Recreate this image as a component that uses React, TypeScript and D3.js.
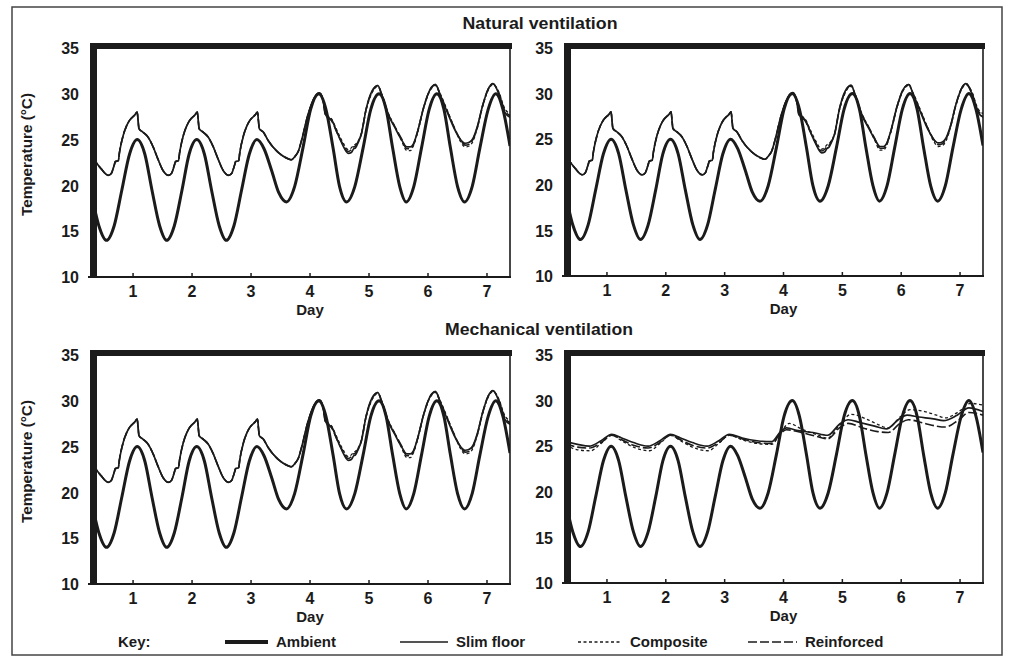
import * as d3 from "d3";

type Pt = [number, number];

// axis values
const dayTicks = [1, 2, 3, 4, 5, 6, 7];
const tempTicks = [10, 15, 20, 25, 30, 35];

// ambient temperature, same in all four panels (day, °C)
const ambient: Pt[] = [
  [0.3, 18.9], [0.42, 15.6], [0.55, 14.0], [0.68, 15.6], [0.81, 19.5], [0.94, 23.4], [1.07, 25.0],
  [1.2, 23.4], [1.32, 19.5], [1.45, 15.6], [1.57, 14.0], [1.7, 15.6], [1.83, 19.5], [1.95, 23.4],
  [2.08, 25.0], [2.21, 23.4], [2.33, 19.5], [2.46, 15.6], [2.58, 14.0], [2.71, 15.6], [2.84, 19.5],
  [2.97, 23.4], [3.1, 25.0], [3.22, 24.0], [3.35, 21.6], [3.47, 19.2], [3.6, 18.2], [3.74, 19.9],
  [3.88, 24.1], [4.01, 28.3], [4.15, 30.0], [4.27, 28.3], [4.39, 24.1], [4.5, 19.9], [4.62, 18.2],
  [4.76, 19.9], [4.9, 24.1], [5.03, 28.3], [5.17, 30.0], [5.29, 28.3], [5.4, 24.1], [5.52, 19.9],
  [5.63, 18.2], [5.76, 19.9], [5.89, 24.1], [6.02, 28.3], [6.15, 30.0], [6.27, 28.3], [6.38, 24.1],
  [6.5, 19.9], [6.62, 18.2], [6.75, 19.9], [6.88, 24.1], [7.02, 28.3], [7.15, 30.0], [7.27, 28.3],
  [7.39, 24.3],
];

// natural ventilation: the three floors sit on top of each other up to day 4
const naturalEarly: Pt[] = [
  [0.3, 23.1], [0.35, 22.7], [0.46, 21.8], [0.58, 21.1], [0.63, 21.3], [0.68, 22.2], [0.7, 22.6],
  [0.75, 22.7], [0.77, 23.6], [0.83, 25.4], [0.89, 26.5], [0.94, 27.1], [1.03, 27.7], [1.07, 28.0],
  [1.085, 27.1], [1.1, 26.2], [1.17, 25.8], [1.25, 25.3], [1.34, 24.2], [1.42, 22.9], [1.51, 21.6],
  [1.6, 21.1], [1.65, 21.3], [1.7, 22.2], [1.72, 22.6], [1.77, 22.7], [1.79, 23.6], [1.85, 25.4],
  [1.91, 26.5], [1.96, 27.1], [2.05, 27.7], [2.09, 28.0], [2.105, 27.1], [2.12, 26.2], [2.19, 25.8],
  [2.27, 25.3], [2.36, 24.2], [2.44, 22.9], [2.53, 21.6], [2.62, 21.1], [2.67, 21.3], [2.72, 22.2],
  [2.74, 22.6], [2.79, 22.7], [2.81, 23.6], [2.87, 25.4], [2.93, 26.5], [2.98, 27.1], [3.07, 27.7],
  [3.11, 28.0], [3.125, 27.1], [3.14, 26.2], [3.21, 25.8], [3.29, 24.9], [3.46, 23.6], [3.63, 22.9],
  [3.68, 22.8], [3.75, 23.2], [3.8, 23.7], [3.86, 25.0], [3.96, 27.6], [4.07, 29.5], [4.16, 30.1],
];

const slimNaturalLate: Pt[] = [
  [4.22, 29.3], [4.26, 27.8], [4.3, 27.4], [4.37, 27.1], [4.45, 25.9], [4.54, 24.6], [4.65, 23.5],
  [4.7, 23.6], [4.74, 24.0], [4.77, 24.1], [4.81, 24.6], [4.87, 25.6], [4.95, 28.3], [5.05, 30.3],
  [5.15, 30.9], [5.22, 29.8], [5.32, 27.8], [5.44, 26.3], [5.55, 25.0], [5.64, 24.2], [5.7, 24.2],
  [5.75, 24.5], [5.82, 25.8], [5.93, 28.6], [6.03, 30.4], [6.13, 31.0], [6.2, 30.0], [6.32, 28.1],
  [6.46, 26.0], [6.55, 25.0], [6.63, 24.6], [6.7, 24.7], [6.76, 25.1], [6.83, 26.3], [6.93, 28.8],
  [7.02, 30.5], [7.1, 31.1], [7.2, 30.0], [7.3, 28.0], [7.4, 27.4],
];

const compositeNaturalLate: Pt[] = [
  [4.22, 29.2], [4.26, 27.9], [4.3, 27.6], [4.37, 27.2], [4.45, 26.1], [4.54, 24.9], [4.65, 23.9],
  [4.7, 24.1], [4.74, 24.4], [4.77, 24.5], [4.81, 24.8], [4.87, 25.7], [4.95, 28.2], [5.05, 30.1],
  [5.15, 30.8], [5.22, 29.9], [5.32, 28.0], [5.44, 26.4], [5.55, 24.9], [5.64, 23.8], [5.7, 23.8],
  [5.75, 24.3], [5.82, 25.7], [5.93, 28.5], [6.03, 30.3], [6.13, 30.9], [6.2, 30.1], [6.32, 28.3],
  [6.46, 26.1], [6.55, 24.8], [6.63, 24.2], [6.7, 24.3], [6.76, 24.8], [6.83, 26.1], [6.93, 28.7],
  [7.02, 30.4], [7.1, 31.0], [7.2, 30.2], [7.3, 28.4], [7.4, 27.8],
];

const reinforcedNaturalLate: Pt[] = [
  [4.22, 29.3], [4.26, 27.7], [4.3, 27.5], [4.37, 27.0], [4.45, 25.9], [4.54, 24.7], [4.65, 23.7],
  [4.7, 23.9], [4.74, 24.2], [4.77, 24.3], [4.81, 24.7], [4.87, 25.6], [4.95, 28.3], [5.05, 30.2],
  [5.15, 30.9], [5.22, 29.8], [5.32, 27.9], [5.44, 26.4], [5.55, 25.1], [5.64, 24.0], [5.7, 24.0],
  [5.75, 24.4], [5.82, 25.8], [5.93, 28.6], [6.03, 30.4], [6.13, 31.0], [6.2, 30.0], [6.32, 28.2],
  [6.46, 26.1], [6.55, 25.0], [6.63, 24.4], [6.7, 24.5], [6.76, 25.0], [6.83, 26.2], [6.93, 28.8],
  [7.02, 30.5], [7.1, 31.1], [7.2, 30.1], [7.3, 28.2], [7.4, 27.6],
];

const slimNatural = [...naturalEarly, ...slimNaturalLate];
const compositeNatural = [...naturalEarly, ...compositeNaturalLate];
const reinforcedNatural = [...naturalEarly, ...reinforcedNaturalLate];

// mechanical ventilation, right-hand panel
const slimMech: Pt[] = [
  [0.3, 25.5], [0.5, 25.2], [0.7, 25.0], [0.9, 25.6], [1.08, 26.3], [1.25, 25.9], [1.45, 25.4],
  [1.7, 25.0], [1.9, 25.6], [2.08, 26.3], [2.25, 25.9], [2.45, 25.4], [2.7, 25.0], [2.9, 25.6],
  [3.08, 26.3], [3.3, 25.9], [3.55, 25.6], [3.8, 25.5], [3.95, 26.6], [4.05, 27.0], [4.25, 26.7],
  [4.5, 26.5], [4.75, 26.2], [4.95, 27.4], [5.1, 27.9], [5.3, 27.6], [5.55, 27.2], [5.75, 26.9],
  [5.95, 27.9], [6.1, 28.4], [6.3, 28.2], [6.55, 28.0], [6.72, 27.8], [6.95, 28.4], [7.15, 29.2],
  [7.39, 28.8],
];

const compositeMech: Pt[] = [
  [0.3, 25.2], [0.5, 24.6], [0.72, 24.5], [0.9, 25.3], [1.08, 26.2], [1.25, 25.6], [1.45, 24.9],
  [1.72, 24.5], [1.9, 25.3], [2.08, 26.2], [2.25, 25.6], [2.45, 24.9], [2.72, 24.5], [2.9, 25.3],
  [3.08, 26.2], [3.3, 25.7], [3.55, 25.3], [3.8, 25.2], [3.95, 26.5], [4.1, 27.5], [4.3, 26.9],
  [4.55, 26.3], [4.75, 25.9], [4.95, 27.3], [5.15, 28.5], [5.4, 28.0], [5.6, 27.4], [5.78, 27.0],
  [5.98, 28.2], [6.15, 29.0], [6.4, 28.8], [6.6, 28.4], [6.75, 28.1], [6.98, 28.8], [7.18, 29.7],
  [7.39, 29.5],
];

const reinforcedMech: Pt[] = [
  [0.3, 25.3], [0.5, 24.9], [0.7, 24.8], [0.9, 25.4], [1.08, 26.2], [1.25, 25.7], [1.45, 25.1],
  [1.7, 24.8], [1.9, 25.4], [2.08, 26.2], [2.25, 25.7], [2.45, 25.1], [2.7, 24.8], [2.9, 25.4],
  [3.08, 26.2], [3.3, 25.8], [3.55, 25.4], [3.8, 25.3], [3.95, 26.4], [4.05, 26.8], [4.3, 26.5],
  [4.55, 26.1], [4.75, 25.8], [4.95, 27.0], [5.1, 27.5], [5.35, 27.0], [5.6, 26.6], [5.78, 26.5],
  [5.98, 27.5], [6.12, 27.9], [6.4, 27.5], [6.6, 27.2], [6.75, 27.1], [6.98, 27.9], [7.15, 28.7],
  [7.39, 28.4],
];

const FONT = "'Liberation Sans', Arial, sans-serif";
const INK = "#1b1b1b";

const styles = {
  ambient: { width: 3, dash: "" },
  slim: { width: 1.7, dash: "" },
  composite: { width: 1.3, dash: "3,2.5" },
  reinforced: { width: 1.6, dash: "9,3" },
};

type Series = { key: keyof typeof styles; data: Pt[] };

const naturalSet: Series[] = [
  { key: "composite", data: compositeNatural },
  { key: "reinforced", data: reinforcedNatural },
  { key: "slim", data: slimNatural },
  { key: "ambient", data: ambient },
];
const mechSet: Series[] = [
  { key: "composite", data: compositeMech },
  { key: "reinforced", data: reinforcedMech },
  { key: "slim", data: slimMech },
  { key: "ambient", data: ambient },
];

type PanelProps = {
  id: string;
  left: number;
  right: number;
  top: number;
  bottom: number;
  series: Series[];
  yTitle: boolean;
};

function Panel({ id, left, right, top, bottom, series, yTitle }: PanelProps) {
  const x = d3.scaleLinear().domain([0.27, 7.39]).range([left, right]);
  const y = d3.scaleLinear().domain([10, 35]).range([bottom, top]);
  const line = d3
    .line<Pt>()
    .x((d) => x(d[0]))
    .y((d) => y(d[1]))
    .curve(d3.curveMonotoneX);

  return (
    <g>
      <defs>
        <clipPath id={id}>
          <rect x={left + 6} y={top} width={right - left - 6} height={bottom - top} />
        </clipPath>
      </defs>
      <g clipPath={`url(#${id})`}>
        {series.map((s) => (
          <path
            key={s.key}
            d={line(s.data) ?? ""}
            fill="none"
            stroke={INK}
            strokeWidth={styles[s.key].width}
            strokeDasharray={styles[s.key].dash}
            strokeLinejoin="round"
          />
        ))}
      </g>
      {/* frame: heavy top and left, light right and bottom */}
      <line x1={right} x2={right} y1={top} y2={bottom} stroke={INK} strokeWidth={1.6} />
      <line x1={left - 2} x2={right + 1} y1={bottom} y2={bottom} stroke={INK} strokeWidth={1.8} />
      <rect x={left} y={top - 5} width={right - left + 2} height={6} fill={INK} />
      <rect x={left} y={top - 5} width={7} height={bottom - top + 6} fill={INK} />
      {dayTicks.map((d) => (
        <g key={d}>
          <line x1={x(d)} x2={x(d)} y1={bottom} y2={bottom - 4} stroke={INK} strokeWidth={1.5} />
          <text
            x={x(d)}
            y={bottom + 16}
            textAnchor="middle"
            dominantBaseline="middle"
            fontSize={16}
            fontWeight="bold"
            fill={INK}
          >
            {d}
          </text>
        </g>
      ))}
      {tempTicks.map((t) => (
        <text
          key={t}
          x={left - 11}
          y={y(t) + 2}
          textAnchor="end"
          dominantBaseline="middle"
          fontSize={16}
          fontWeight="bold"
          fill={INK}
        >
          {t}
        </text>
      ))}
      <text
        x={x(4)}
        y={bottom + 34}
        textAnchor="middle"
        dominantBaseline="middle"
        fontSize={15}
        fontWeight="bold"
        fill={INK}
      >
        Day
      </text>
      {yTitle && (
        <text
          transform={`translate(28,${(top + bottom) / 2 - 8}) rotate(-90)`}
          textAnchor="middle"
          dominantBaseline="middle"
          fontSize={14}
          fontWeight="bold"
          fill={INK}
          textLength={123}
          lengthAdjust="spacingAndGlyphs"
        >
          Temperature (°C)
        </text>
      )}
    </g>
  );
}

const keyItems = [
  { key: "ambient" as const, label: "Ambient", x1: 225, x2: 268 },
  { key: "slim" as const, label: "Slim floor", x1: 400, x2: 448 },
  { key: "composite" as const, label: "Composite", x1: 578, x2: 622 },
  { key: "reinforced" as const, label: "Reinforced", x1: 748, x2: 797 },
];

export default function App() {
  return (
    <svg
      width={1012}
      height={660}
      style={{ position: "absolute", left: 0, top: 0, background: "#fff" }}
      fontFamily={FONT}
    >
      <rect x={12} y={7} width={990} height={648} fill="none" stroke="#444" strokeWidth={1.5} />
      <text x={540} y={25} textAnchor="middle" dominantBaseline="middle" fontSize={17} fontWeight="bold" fill={INK} textLength={155} lengthAdjust="spacingAndGlyphs">
        Natural ventilation
      </text>
      <text x={539} y={331} textAnchor="middle" dominantBaseline="middle" fontSize={17} fontWeight="bold" fill={INK} textLength={188} lengthAdjust="spacingAndGlyphs">
        Mechanical ventilation
      </text>
      <Panel id="c1" left={90} right={510} top={48} bottom={277} series={naturalSet} yTitle />
      <Panel id="c2" left={564} right={983} top={48} bottom={276} series={naturalSet} yTitle={false} />
      <Panel id="c3" left={90} right={510} top={355} bottom={584} series={naturalSet} yTitle />
      <Panel id="c4" left={564} right={983} top={355} bottom={583} series={mechSet} yTitle={false} />
      <text x={118} y={643} dominantBaseline="middle" fontSize={15} fontWeight="bold" fill={INK}>
        Key:
      </text>
      {keyItems.map((k) => (
        <g key={k.key}>
          <line
            x1={k.x1}
            x2={k.x2}
            y1={642}
            y2={642}
            stroke={INK}
            strokeWidth={styles[k.key].width + (k.key === "ambient" ? 1 : 0)}
            strokeDasharray={styles[k.key].dash}
          />
          <text x={k.x2 + 8} y={643} dominantBaseline="middle" fontSize={15} fontWeight="bold" fill={INK}>
            {k.label}
          </text>
        </g>
      ))}
    </svg>
  );
}
